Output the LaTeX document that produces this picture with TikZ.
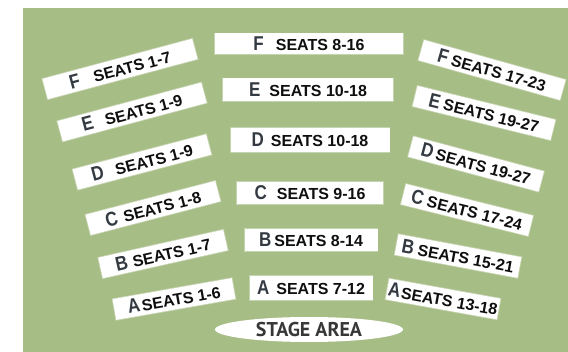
\documentclass[tikz,border=0pt]{standalone}
\usepackage{fontspec}
\setmainfont{Liberation Sans}
\newfontfamily\stagefont{PT Sans}
\usetikzlibrary{shapes.geometric}
\definecolor{field}{RGB}{167,189,134}
\definecolor{rowletter}{RGB}{52,58,66}
\definecolor{seattext}{RGB}{15,15,15}
\definecolor{stagetext}{RGB}{55,55,55}
\newcommand{\seatlbl}[3]{{\color{rowletter}\fontsize{20}{20}\selectfont\scalebox{0.85}[1]{#1}}\hspace{#2}{\color{seattext}\fontsize{16}{16}\selectfont SEATS #3}}
\tikzset{
  band/.style={fill=white, draw=white, draw opacity=0.35, line width=1.6pt,
    inner sep=0pt, minimum height=21pt, font=\bfseries},
  stagebox/.style={ellipse, fill=white, inner sep=0pt, minimum width=188pt,
    minimum height=25pt, text=stagetext},
}
\begin{document}
\begin{tikzpicture}[x=1pt,y=-1pt]
\useasboundingbox (0,0) rectangle (568,352);
\fill[white] (0,0) rectangle (568,352);
\fill[field] (23,8) rectangle (568,352);
% left column
\node[band, minimum width=155pt, rotate=15]   (lF) at (120,69)  {\seatlbl{F}{14pt}{1-7}};
\node[band, minimum width=149pt, rotate=15]   (lE) at (132,112) {\seatlbl{E}{12pt}{1-9}};
\node[band, minimum width=138pt, rotate=14.7] (lD) at (142,162) {\seatlbl{D}{12pt}{1-9}};
\node[band, minimum width=134pt, rotate=14.6] (lC) at (153,208) {\seatlbl{C}{6pt}{1-8}};
\node[band, minimum width=128pt, rotate=12.6] (lB) at (163,254) {\seatlbl{B}{5pt}{1-7}};
\node[band, minimum width=121pt, rotate=10]   (lA) at (174,299) {\seatlbl{A}{2pt}{1-6}};
% middle column
\node[band, minimum width=188pt] (mF) at (309,44)  {\seatlbl{F}{12pt}{8-16}};
\node[band, minimum width=170pt, minimum height=23pt] (mE) at (308,90)  {\seatlbl{E}{9pt}{10-18}};
\node[band, minimum width=159pt, minimum height=24pt] (mD) at (310,140) {\seatlbl{D}{7pt}{10-18}};
\node[band, minimum width=146pt, minimum height=22pt] (mC) at (310,193) {\seatlbl{C}{10pt}{9-16}};
\node[band, minimum width=133pt, minimum height=22pt] (mB) at (311,240) {\seatlbl{B}{3pt}{8-14}};
\node[band, minimum width=123pt, minimum height=24pt] (mA) at (311,288) {\seatlbl{A}{7pt}{7-12}};
% right column
\node[band, minimum width=147pt, rotate=-15.7] (rF) at (492,70)  {\seatlbl{F}{4pt}{17-23}};
\node[band, minimum width=142pt, rotate=-13.8] (rE) at (484,113) {\seatlbl{E}{4pt}{19-27}};
\node[band, minimum width=135pt, rotate=-15]   (rD) at (476,164) {\seatlbl{D}{3pt}{19-27}};
\node[band, minimum width=131pt, rotate=-14]   (rC) at (467,210) {\seatlbl{C}{4pt}{17-24}};
\node[band, minimum width=125pt, rotate=-10.6] (rB) at (458,256) {\seatlbl{B}{4pt}{15-21}};
\node[band, minimum width=113pt, rotate=-10.2] (rA) at (443,299) {\seatlbl{A}{1pt}{13-18}};
% stage
\node[stagebox] (stage) at (309,329.5) {\resizebox{106pt}{!}{\stagefont\bfseries STAGE AREA}};
\end{tikzpicture}
\end{document}
